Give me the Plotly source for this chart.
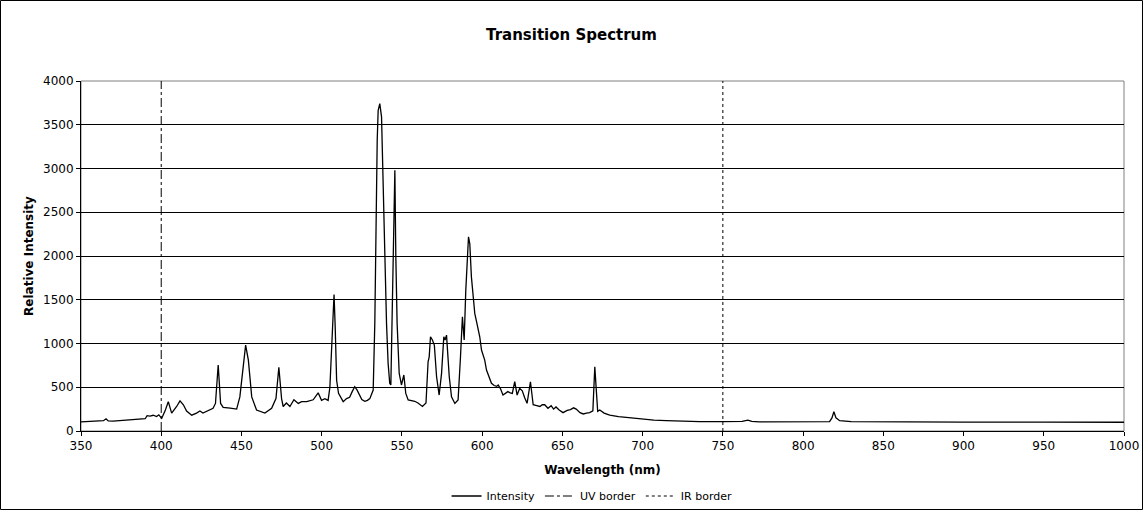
import plotly.graph_objects as go

wavelength = [350, 356, 361.8, 364, 365.6, 367, 370, 376.3, 382.6, 388, 390, 391.2, 393, 395, 397.1, 398.5,
              400.3, 402.4, 404.4, 406.5, 409.6, 411.7, 413.8, 415.8, 419, 422, 424.1, 426, 430.3, 432.3,
              433.8, 435.5, 437, 438.6, 443, 447, 449, 450.7, 452.6, 454.3, 456.4, 459.4, 464.6, 468.8,
              471.5, 473.3, 475, 476, 478, 480.2, 482.7, 485.4, 487.5, 490.6, 494.7, 497.8, 499.9, 502,
              504, 505.1, 506.2, 507, 507.7, 508.4, 509.3, 510.5, 511.8, 513.4, 515.5, 517.4, 519, 520.6,
              522, 523.8, 525, 526.9, 528.5, 530, 531, 532.1, 533.1, 533.7, 534.6, 535.2, 536.2, 537.3,
              538.3, 539.3, 540.4, 541.4, 542.4, 543.1, 543.9, 544.5, 545.6, 546.2, 547, 548.3, 549.7,
              551.2, 552.4, 553.9, 556, 558, 560, 562.8, 565, 566.3, 567, 567.8, 569, 570.2, 571.6, 573.2,
              574.7, 576.1, 576.9, 577.8, 579.5, 580.9, 583, 585, 586.5, 587.7, 588.8, 589.8, 591.5,
              592.3, 593.3, 595.4, 596.5, 598.5, 599.6, 601.6, 602.7, 604.7, 605.8, 607.5, 609, 610,
              611.5, 613, 614.5, 616, 617.5, 618.8, 620.3, 621.8, 623.4, 625, 626.5, 628, 630.1, 631.8,
              634, 636, 637.5, 639, 641, 643, 644.5, 646, 648, 650.4, 653, 655, 657, 658.6, 661, 663,
              665, 667, 669, 670.2, 671.2, 672, 673.3, 676, 679.5, 681.5, 685, 689.8, 695, 700.2, 707,
              714.7, 725, 735.5, 750, 762, 765.6, 768, 772.8, 790, 816.5, 818, 819.2, 820.5, 822.8, 830,
              860, 900, 950, 1000]
intensity = [105, 108, 110, 118, 140, 115, 112, 120, 130, 135, 140, 175, 171, 180, 165, 185,
             145, 230, 335, 205, 280, 345, 300, 228, 181, 205, 228, 205, 240, 260,
             315, 754, 315, 270, 262, 250, 390, 695, 982, 810, 390, 240, 205, 260,
             370, 727, 370, 280, 320, 280, 357, 315, 335, 335, 357, 437, 350, 370,
             350, 500, 1000, 1400, 1560, 1200, 580, 430, 390, 335, 370, 385, 450, 506,
             470, 400, 360, 340, 350, 370, 410, 468, 1233, 2372, 3323, 3665, 3742, 3590,
             2752, 1990, 1230, 773, 545, 526, 1233, 2180, 2980, 1990, 1233, 659, 526,
             640, 430, 355, 345, 340, 320, 280, 320, 791, 848, 1077, 1040, 982, 620, 411,
             659, 1077, 1040, 1096, 620, 392, 315, 355, 848, 1305, 1040, 1610, 2219,
             2140, 1762, 1344, 1250, 1077, 925, 811, 697, 600, 545, 520, 510, 525,
             480, 411, 430, 450, 435, 430, 563, 411, 487, 460, 380, 316, 563, 300,
             290, 280, 300, 300, 260, 290, 250, 275, 240, 210, 235, 245, 265, 250, 210, 195,
             205, 210, 230, 735, 450, 225, 240, 205, 182, 175, 165, 155, 145, 133, 125,
             118, 112, 107, 107, 110, 125, 110, 105, 105, 107, 150, 220, 150, 118, 108,
             103, 102, 101, 100]

uv_border = 400
ir_border = 750
y_limits = [0, 4000]

fig = go.Figure()
fig.add_trace(go.Scatter(x=wavelength, y=intensity, mode="lines", name="Intensity",
                         line=dict(color="black", width=1.3)))
fig.add_trace(go.Scatter(x=[uv_border, uv_border], y=y_limits, mode="lines", name="UV border",
                         line=dict(color="black", width=1, dash="dashdot")))
fig.add_trace(go.Scatter(x=[ir_border, ir_border], y=y_limits, mode="lines", name="IR border",
                         line=dict(color="black", width=1, dash="dot")))

FONT = "Verdana, DejaVu Sans, sans-serif"
L, R, T, B = 81, 1124, 81, 431
W, H = 1143, 510
pw, ph = R - L, B - T

def px(xp):
    return (xp - L) / pw

def py(yp):
    return (B - yp) / ph

fig.update_layout(
    width=W, height=H, autosize=False,
    margin=dict(l=L, r=W - R, t=T, b=H - B, autoexpand=False),
    paper_bgcolor="white", plot_bgcolor="white",
    font=dict(family=FONT, size=12, color="black"),
    title=dict(text="<b>Transition Spectrum</b>", x=0.5, xanchor="center",
               y=1 - 35 / H, yanchor="middle", font=dict(size=15, family=FONT)),
    showlegend=True,
    legend=dict(orientation="h", x=0.49, xanchor="center",
                y=py(496), yanchor="middle", font=dict(size=11, family=FONT),
                bgcolor="rgba(0,0,0,0)", itemwidth=30, tracegroupgap=0),
    xaxis=dict(range=[350, 1000], tickmode="linear", tick0=350, dtick=50, automargin=False,
               showgrid=False, zeroline=False, showline=True, linecolor="black", linewidth=1,
               ticks="outside", ticklen=4, tickcolor="black",
               title=dict(text="<b>Wavelength (nm)</b>", font=dict(size=12, family=FONT), standoff=13),
               tickfont=dict(size=12, family=FONT)),
    yaxis=dict(range=[0, 4000], tickmode="linear", tick0=0, dtick=500, automargin=False,
               showgrid=True, gridcolor="black", gridwidth=1, zeroline=False,
               showline=True, linecolor="black", linewidth=1,
               ticks="outside", ticklen=4, tickcolor="black",
               title=dict(text="<b>Relative Intensity</b>", font=dict(size=12, family=FONT), standoff=6),
               tickfont=dict(size=12, family=FONT)),
    shapes=[
        dict(type="rect", xref="paper", yref="paper", x0=0, x1=1, y0=0, y1=1,
             line=dict(color="#808080", width=1), layer="below"),
        dict(type="rect", xref="paper", yref="paper", x0=px(0.5), x1=px(W - 0.5),
             y0=py(H - 0.5), y1=py(0.5), line=dict(color="black", width=1)),
    ],
)

fig.write_html(
    "out.html",
    config={"responsive": False, "displayModeBar": False},
    post_script="document.body.style.margin='0';document.body.style.overflow='hidden';",
)
